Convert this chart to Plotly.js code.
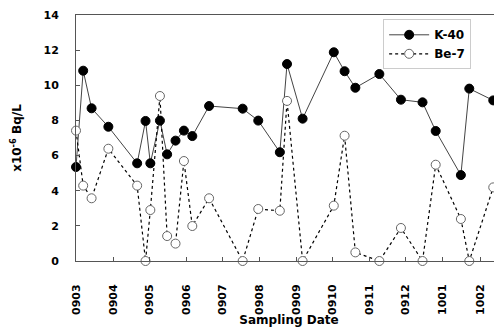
<!DOCTYPE html>
<html>
<head>
<meta charset="utf-8">
<script src="https://cdn.plot.ly/plotly-3.0.1.min.js"></script>
<style>
html,body{margin:0;padding:0;overflow:hidden;background:#fff;}
#chart{width:520px;height:327px;}
</style>
</head>
<body>
<div id="chart"></div>
<script>
var samplingDates = ["2009-03-01","2009-03-07","2009-03-14","2009-03-28","2009-04-21","2009-04-28",
  "2009-05-02","2009-05-10","2009-05-16","2009-05-23","2009-05-30","2009-06-06","2009-06-20",
  "2009-07-18","2009-07-31","2009-08-18","2009-08-24","2009-09-06","2009-10-02","2009-10-11",
  "2009-10-20","2009-11-09","2009-11-27","2009-12-15","2009-12-26","2010-01-16","2010-01-23","2010-02-12"];
var k40 = [5.35,10.83,8.69,7.64,5.56,7.97,5.56,7.99,6.07,6.85,7.42,7.11,8.82,8.67,7.99,6.19,11.21,8.10,11.88,10.80,9.86,10.64,9.18,9.03,7.40,4.89,9.81,9.14];
var be7 = [7.42,4.29,3.57,6.39,4.29,0,2.90,9.39,1.42,0.99,5.69,1.99,3.57,0,2.96,2.86,9.11,0,3.15,7.13,0.49,0,1.88,0,5.48,2.39,0,4.19];
var seriesNames = ["K-40","Be-7"];
var yTitle = "x10<sup>-6</sup> Bq/L";
var xTitle = "Sampling Date";

var fontFam = "DejaVu Sans, Arial, sans-serif";
var traces = [
  {x: samplingDates, y: k40, name: seriesNames[0], type: "scatter", mode: "lines+markers",
   line: {color: "#444", width: 1},
   marker: {color: "#000", size: 9, line: {color: "#000", width: 1}},
   cliponaxis: false},
  {x: samplingDates, y: be7, name: seriesNames[1], type: "scatter", mode: "lines+markers",
   line: {color: "#000", width: 1.2, dash: "dot"},
   marker: {color: "#fff", size: 9, line: {color: "#666", width: 1}},
   cliponaxis: false}
];
var layout = {
  width: 520, height: 327,
  margin: {l: 76, r: 18, t: 15, b: 66},
  paper_bgcolor: "#fff", plot_bgcolor: "#fff",
  font: {family: fontFam, size: 11, color: "#000"},
  showlegend: true,
  legend: {x: 0.721, y: 0.9825, xanchor: "left", yanchor: "top",
    bgcolor: "#fff", bordercolor: "#ccc", borderwidth: 1,
    font: {family: fontFam, size: 12, color: "#000", weight: "bold"},
    itemwidth: 40, tracegroupgap: 0},
  xaxis: {type: "date", range: ["2009-03-01", "2010-02-19 07:00"],
    dtick: "M1", tick0: "2009-03-01", tickformat: "%y%m",
    tickangle: -90, ticks: "inside", ticklen: 4, tickcolor: "#555",
    showline: true, linecolor: "#555", linewidth: 1, mirror: true,
    showgrid: false, zeroline: false, ticklabelstandoff: 18,
    tickfont: {family: fontFam, size: 11, weight: "bold", color: "#000"},
    title: {text: xTitle, font: {family: fontFam, size: 12, weight: "bold"}, standoff: 3}},
  yaxis: {range: [0, 14], dtick: 2, ticks: "inside", ticklen: 4, tickcolor: "#555",
    showline: true, linecolor: "#555", linewidth: 1, mirror: true,
    showgrid: false, zeroline: false, ticklabelstandoff: 14,
    tickfont: {family: fontFam, size: 11, weight: "bold", color: "#000"},
    title: {text: yTitle, font: {family: fontFam, size: 12, weight: "bold"}, standoff: 19}}
};
Plotly.newPlot("chart", traces, layout, {displayModeBar: false, staticPlot: true});
</script>
</body>
</html>
